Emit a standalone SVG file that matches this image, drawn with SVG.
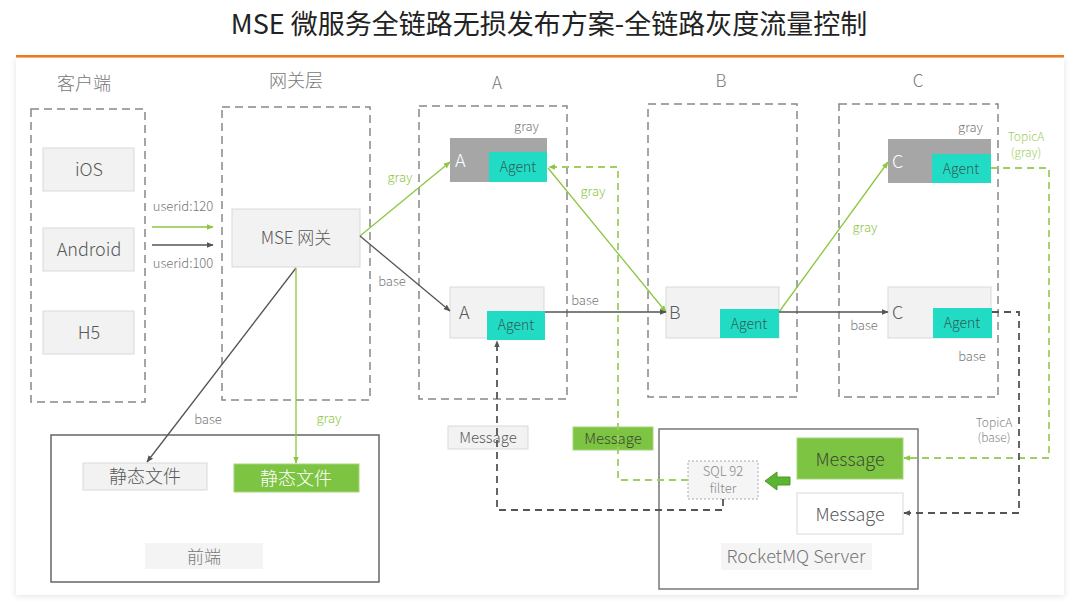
<svg xmlns="http://www.w3.org/2000/svg" width="1080" height="613" viewBox="0 0 1080 613">
<style>
text{font-family:"Noto Sans CJK SC","Noto Sans",sans-serif;fill:#595959;font-weight:300}
.ct{text-anchor:middle}
.hdr{font-size:18px;fill:#777}
.cont{fill:none;stroke:#888;stroke-width:1.5;stroke-dasharray:8 5}
.gbox{fill:#f2f2f2;stroke:#d9d9d9;stroke-width:1}
.dbox{fill:#a6a6a6}
.agent{fill:#22dbc5}
.agt{font-size:14px;fill:#2f5d57;text-anchor:middle}
.lbl{font-size:13px;fill:#777}
.glbl{font-size:13px;fill:#8dc63f}
.ln{fill:none;stroke:#555;stroke-width:1.3}
.gln{fill:none;stroke:#8dc63f;stroke-width:1.3}
.dln{fill:none;stroke:#555;stroke-width:1.8;stroke-dasharray:7 5}
.dgln{fill:none;stroke:#9fce62;stroke-width:1.8;stroke-dasharray:7 5}
.green{fill:#7dc443;stroke:#a5d57a;stroke-width:1}
</style>
<defs>
<marker id="ah" viewBox="0 0 10 10" refX="9" refY="5" markerWidth="7" markerHeight="7" markerUnits="userSpaceOnUse" orient="auto"><path d="M0,1 L10,5 L0,9 z" fill="#555"/></marker>
<marker id="gah" viewBox="0 0 10 10" refX="9" refY="5" markerWidth="7" markerHeight="7" markerUnits="userSpaceOnUse" orient="auto"><path d="M0,1 L10,5 L0,9 z" fill="#8dc63f"/></marker>
<filter id="sh" x="-5%" y="-5%" width="110%" height="110%"><feDropShadow dx="0" dy="1" stdDeviation="3" flood-color="#000" flood-opacity="0.12"/></filter>
</defs>
<rect width="1080" height="613" fill="#fff"/>
<g id="title">
<text x="549" y="34" class="ct" style="font-size:27px;fill:#222;font-weight:400">MSE 微服务全链路无损发布方案-全链路灰度流量控制</text>
<rect x="16" y="55" width="1048" height="2.5" fill="#f47b20"/>
</g>
<rect x="16" y="58" width="1048" height="537" fill="#fff" filter="url(#sh)"/>

<g id="client">
<text x="84" y="90" class="ct hdr">客户端</text>
<rect x="31" y="109" width="114" height="293" class="cont"/>
</g>
<g id="ios"><rect x="43" y="148" width="91" height="43" class="gbox"/><text x="89" y="176" class="ct" style="font-size:18px">iOS</text></g>
<g id="android"><rect x="43" y="228" width="91" height="43" class="gbox"/><text x="89" y="256" class="ct" style="font-size:18px">Android</text></g>
<g id="h5"><rect x="43" y="311" width="91" height="43" class="gbox"/><text x="89" y="339" class="ct" style="font-size:18px">H5</text></g>

<g id="gateway">
<text x="296" y="87" class="ct hdr">网关层</text>
<rect x="222" y="107" width="148" height="293" class="cont"/>
</g>
<g id="mse"><rect x="232" y="209" width="128" height="58" class="gbox"/><text x="296" y="244" class="ct" style="font-size:17px">MSE 网关</text></g>

<g id="colA">
<text x="497" y="89" class="ct" style="font-size:17px;fill:#777">A</text>
<rect x="419" y="106" width="148" height="293" class="cont"/>
</g>
<g id="agray">
<text x="539" y="131" class="lbl" text-anchor="end">gray</text>
<rect x="450" y="138" width="97" height="44" class="dbox"/>
<rect x="489" y="152" width="58" height="30" class="agent"/>
<text x="455" y="167" style="font-size:18px;fill:#fff">A</text>
<text x="518" y="172" class="agt">Agent</text>
</g>
<g id="abase">
<rect x="450" y="287" width="94" height="51" class="gbox"/>
<rect x="487" y="311" width="58" height="29" class="agent"/>
<text x="459" y="319" style="font-size:18px">A</text>
<text x="516" y="330" class="agt">Agent</text>
</g>

<g id="colB">
<text x="721" y="87" class="ct" style="font-size:17px;fill:#777">B</text>
<rect x="648" y="104" width="149" height="293" class="cont"/>
</g>
<g id="bnode">
<rect x="666" y="287" width="113" height="51" class="gbox"/>
<rect x="720" y="309" width="59" height="29" class="agent"/>
<text x="669" y="319" style="font-size:18px">B</text>
<text x="749" y="329" class="agt">Agent</text>
</g>

<g id="colC">
<text x="918" y="87" class="ct" style="font-size:17px;fill:#777">C</text>
<rect x="839" y="104" width="159" height="293" class="cont"/>
</g>
<g id="cgray">
<text x="983" y="132" class="lbl" text-anchor="end">gray</text>
<rect x="888" y="139" width="103" height="44" class="dbox"/>
<rect x="932" y="154" width="59" height="29" class="agent"/>
<text x="892" y="168" style="font-size:18px;fill:#fff">C</text>
<text x="961" y="174" class="agt">Agent</text>
</g>
<g id="cbase">
<rect x="888" y="287" width="103" height="51" class="gbox"/>
<rect x="933" y="308" width="59" height="30" class="agent"/>
<text x="892" y="319" style="font-size:18px">C</text>
<text x="962" y="328" class="agt">Agent</text>
<text x="972" y="361" class="ct lbl">base</text>
</g>

<g id="frontend">
<rect x="51" y="435" width="328" height="147" fill="none" stroke="#666" stroke-width="1.5"/>
<rect x="145" y="543" width="118" height="26" fill="#f4f4f4"/>
<text x="204" y="563" class="ct" style="font-size:17px;fill:#777">前端</text>
</g>
<g id="static-base"><rect x="83" y="463" width="124" height="27" class="gbox"/><text x="145" y="483" class="ct" style="font-size:18px">静态文件</text></g>
<g id="static-gray"><rect x="234" y="464" width="125" height="28" class="green"/><text x="296" y="485" class="ct" style="font-size:18px;fill:#fff">静态文件</text></g>

<g id="msg-base"><rect x="448" y="426" width="80" height="23" class="gbox"/><text x="488" y="443" class="ct" style="font-size:15px">Message</text></g>
<g id="msg-gray"><rect x="573" y="427" width="80" height="23" class="green"/><text x="613" y="444" class="ct" style="font-size:15px;fill:#3f4a35">Message</text></g>

<g id="rocketmq">
<rect x="659" y="429" width="259" height="160" fill="none" stroke="#777" stroke-width="1.5"/>
<rect x="721" y="543" width="151" height="27" fill="#f5f5f5"/>
<text x="796" y="563" class="ct" style="font-size:18px;fill:#777">RocketMQ Server</text>
</g>
<g id="sqlfilter">
<rect x="688" y="461" width="70" height="38" fill="#f5f5f5" stroke="#aaa" stroke-width="1" stroke-dasharray="2 2"/>
<text x="723" y="476" class="ct" style="font-size:13px;fill:#888">SQL 92</text>
<text x="723" y="493" class="ct" style="font-size:13px;fill:#888">filter</text>
</g>
<g id="mq-gray"><rect x="797" y="438" width="106" height="41" class="green"/><text x="850" y="466" class="ct" style="font-size:18px;fill:#3f4a35">Message</text></g>
<g id="mq-base"><rect x="797" y="493" width="106" height="41" fill="#fff" stroke="#d9d9d9"/><text x="850" y="521" class="ct" style="font-size:18px">Message</text></g>

<g id="connectors">
<line x1="152" y1="227" x2="213" y2="227" class="gln" marker-end="url(#gah)"/>
<line x1="152" y1="245" x2="213" y2="245" class="ln" marker-end="url(#ah)"/>
<text x="183" y="211" class="ct lbl">userid:120</text>
<text x="183" y="268" class="ct lbl">userid:100</text>

<line x1="360" y1="236" x2="450" y2="162" class="gln" marker-end="url(#gah)"/>
<text x="400" y="182" class="ct glbl">gray</text>
<line x1="360" y1="236" x2="450" y2="311" class="ln" marker-end="url(#ah)"/>
<text x="392" y="286" class="ct lbl">base</text>

<line x1="548" y1="168" x2="666" y2="312" class="gln" marker-end="url(#gah)"/>
<text x="593" y="196" class="ct glbl">gray</text>
<line x1="545" y1="312" x2="666" y2="312" class="ln" marker-end="url(#ah)"/>
<text x="585" y="305" class="ct lbl">base</text>

<line x1="779" y1="312" x2="888" y2="162" class="gln" marker-end="url(#gah)"/>
<text x="865" y="232" class="ct glbl">gray</text>
<line x1="779" y1="312" x2="888" y2="312" class="ln" marker-end="url(#ah)"/>
<text x="864" y="330" class="ct lbl">base</text>

<polyline points="991,168 1049,168 1049,458 904,458" class="dgln" marker-end="url(#gah)"/>
<text x="1026" y="141" class="ct" style="font-size:12px;fill:#9fce62">TopicA</text>
<text x="1026" y="157" class="ct" style="font-size:12px;fill:#9fce62">(gray)</text>
<polyline points="992,312 1019,312 1019,513 904,513" class="dln" marker-end="url(#ah)"/>
<text x="994" y="427" class="ct" style="font-size:12px;fill:#888">TopicA</text>
<text x="994" y="442" class="ct" style="font-size:12px;fill:#888">(base)</text>

<polyline points="688,480 618,480 618,167 549,167" class="dgln" marker-end="url(#gah)"/>
<polyline points="723,499 723,510 497,510 497,341" class="dln" marker-end="url(#ah)"/>

<line x1="296" y1="268" x2="147" y2="462" class="ln" marker-end="url(#ah)"/>
<text x="208" y="424" class="ct lbl">base</text>
<line x1="296" y1="268" x2="296" y2="463" class="gln" marker-end="url(#gah)"/>
<text x="329" y="423" class="ct glbl">gray</text>

<path d="M765,481 L777,472 L777,477 L790,477 L790,485 L777,485 L777,490 z" fill="#5cb531" stroke="#4a9a28" stroke-width="1"/>
</g>
</svg>
